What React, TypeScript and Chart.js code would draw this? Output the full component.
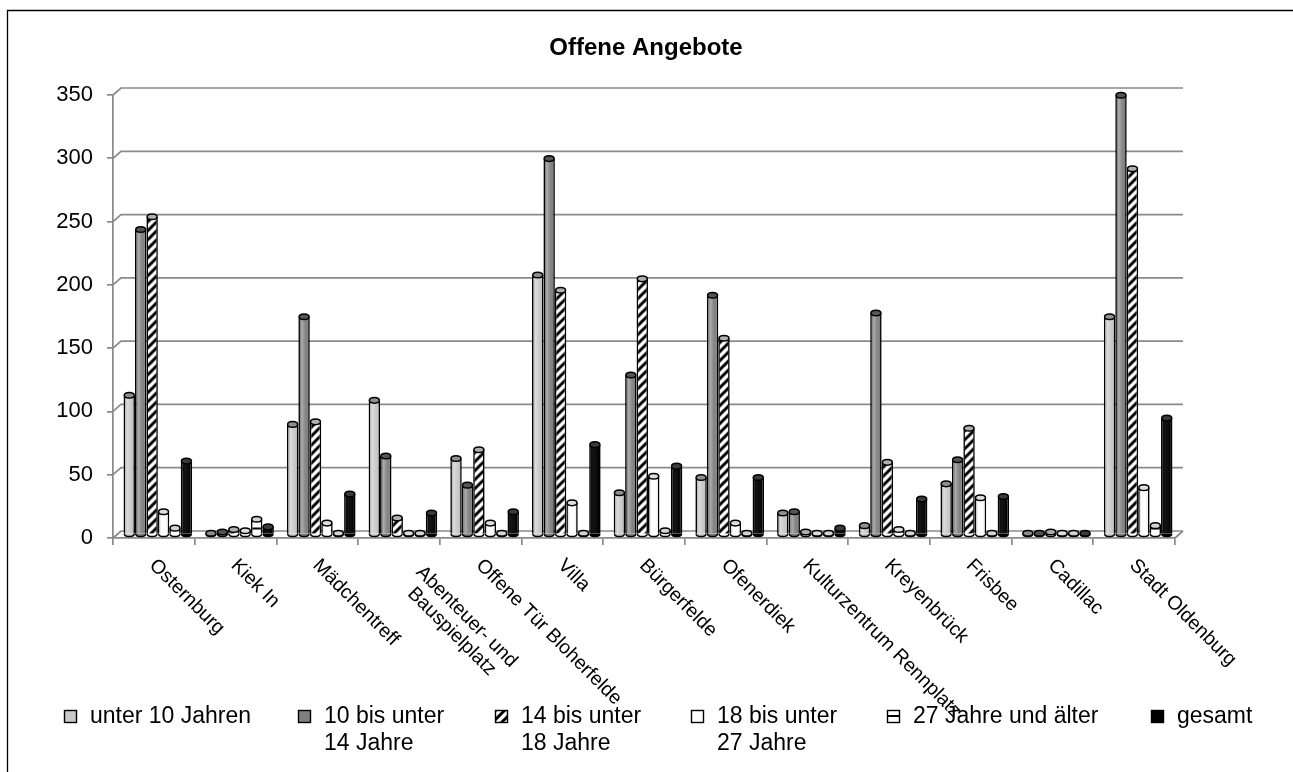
import { useEffect, useRef } from "react";
import { Chart, registerables } from "chart.js";

Chart.register(...registerables);

// ---------- data ----------
const chartTitle = "Offene Angebote";

const categories: string[][] = [
  ["Osternburg"],
  ["Kiek In"],
  ["Mädchentreff"],
  ["Abenteuer- und", "Bauspielplatz"],
  ["Offene Tür Bloherfelde"],
  ["Villa"],
  ["Bürgerfelde"],
  ["Ofenerdiek"],
  ["Kulturzentrum Rennplatz"],
  ["Kreyenbrück"],
  ["Frisbee"],
  ["Cadillac"],
  ["Stadt Oldenburg"],
];

const seriesNames: string[][] = [
  ["unter 10 Jahren"],
  ["10 bis unter", "14 Jahre"],
  ["14 bis unter", "18 Jahre"],
  ["18 bis unter", "27 Jahre"],
  ["27 Jahre und älter"],
  ["gesamt"],
];

const unter10 = [110, 1, 87, 106, 60, 205, 33, 45, 17, 7, 40, 1, 172];
const von10bis14 = [241, 2, 172, 62, 39, 297, 126, 189, 18, 175, 59, 1, 347];
const von14bis18 = [251, 4, 89, 13, 67, 193, 202, 155, 2, 57, 84, 2, 289];
const von18bis27 = [18, 3, 9, 1, 9, 25, 46, 9, 1, 4, 29, 1, 37];
const ab27 = [5, 12, 1, 1, 1, 1, 3, 1, 1, 1, 1, 1, 7];
const gesamt = [58, 6, 32, 17, 18, 71, 54, 45, 5, 28, 30, 1, 92];

const yMin = 0;
const yMax = 350;
const yStep = 50;

// ---------- styling ----------
const FONT = '"Liberation Sans", Arial, Helvetica, sans-serif';
const DX = 8;
const DY = -7;
const GRID = "#8a8a8a";

function makeHatch(ctx: CanvasRenderingContext2D): CanvasPattern | string {
  const c = document.createElement("canvas");
  c.width = 9;
  c.height = 9;
  const g = c.getContext("2d")!;
  g.fillStyle = "#fff";
  g.fillRect(0, 0, 9, 9);
  g.strokeStyle = "#000";
  g.lineWidth = 3;
  g.beginPath();
  g.moveTo(-3, 12);
  g.lineTo(12, -3);
  g.moveTo(-3, 3);
  g.lineTo(3, -3);
  g.moveTo(6, 12);
  g.lineTo(12, 6);
  g.stroke();
  return ctx.createPattern(c, "repeat") || "#fff";
}

function makeHStripe(ctx: CanvasRenderingContext2D): CanvasPattern | string {
  const c = document.createElement("canvas");
  c.width = 8;
  c.height = 8;
  const g = c.getContext("2d")!;
  g.fillStyle = "#fff";
  g.fillRect(0, 0, 8, 8);
  g.fillStyle = "#000";
  g.fillRect(0, 3, 8, 2);
  return ctx.createPattern(c, "repeat") || "#fff";
}

const capColors = ["#8f8f8f", "#555555", "#b0b0b0", "#dedede", "#d4d4d4", "#3a3a3a"];
const bottomColors = ["#c9c9c9", "#7f7f7f", "#ffffff", "#ffffff", "#ffffff", "#000000"];
const shaded = [true, true, false, true, false, true];

const threeD = {
  id: "threeD",
  beforeDatasetsDraw(chart: any) {
    const { ctx, chartArea: a, scales } = chart;
    const y = scales.y;
    ctx.save();
    ctx.strokeStyle = GRID;
    ctx.lineWidth = 1.7;
    y.ticks.forEach((t: any) => {
      const py = y.getPixelForValue(t.value);
      ctx.beginPath();
      ctx.moveTo(a.left, py);
      ctx.lineTo(a.left + DX, py + DY);
      ctx.lineTo(a.right + DX, py + DY);
      ctx.stroke();
    });
    ctx.beginPath();
    ctx.moveTo(a.right, a.bottom);
    ctx.lineTo(a.right + DX, a.bottom + DY);
    ctx.stroke();
    ctx.restore();
    ctx.save();
    ctx.translate(DX / 2, DY / 2);
  },
  afterDatasetsDraw(chart: any) {
    const ctx: CanvasRenderingContext2D = chart.ctx;
    chart.data.datasets.forEach((_ds: any, i: number) => {
      const meta = chart.getDatasetMeta(i);
      meta.data.forEach((bar: any) => {
        const { x, y, base, width } = bar.getProps(["x", "y", "base", "width"], true);
        const rx = width / 2;
        const ry = 2.8;
        if (shaded[i] && base - y > 2) {
          const gr = ctx.createLinearGradient(x - rx, 0, x + rx, 0);
          if (i === 5) {
            gr.addColorStop(0, "rgba(255,255,255,0)");
            gr.addColorStop(0.35, "rgba(255,255,255,0.08)");
            gr.addColorStop(1, "rgba(255,255,255,0)");
          } else {
            gr.addColorStop(0, "rgba(0,0,0,0.08)");
            gr.addColorStop(0.3, "rgba(255,255,255,0.35)");
            gr.addColorStop(0.6, "rgba(255,255,255,0.05)");
            gr.addColorStop(1, "rgba(0,0,0,0.12)");
          }
          ctx.fillStyle = gr;
          ctx.fillRect(x - rx + 1.6, y, width - 3.2, base - y);
        }
        ctx.strokeStyle = "#000";
        ctx.lineWidth = 1.5;
        ctx.beginPath();
        ctx.ellipse(x, base, rx - 0.75, ry, 0, 0, Math.PI);
        ctx.fillStyle = bottomColors[i];
        ctx.fill();
        ctx.stroke();
        ctx.beginPath();
        ctx.ellipse(x, y, rx - 0.75, ry, 0, 0, Math.PI * 2);
        ctx.fillStyle = capColors[i];
        ctx.fill();
        ctx.stroke();
      });
    });
    ctx.restore();
  },
};

const decorations = {
  id: "decorations",
  afterDraw(chart: any) {
    const { ctx, chartArea: a, scales } = chart;
    const x = scales.x;
    ctx.save();

    ctx.strokeStyle = "#000";
    ctx.lineWidth = 1.3;
    ctx.beginPath();
    ctx.moveTo(7.5, chart.height);
    ctx.lineTo(7.5, 10.5);
    ctx.lineTo(chart.width, 10.5);
    ctx.stroke();

    ctx.fillStyle = "#000";
    ctx.font = `bold 24px ${FONT}`;
    ctx.textAlign = "center";
    ctx.textBaseline = "middle";
    ctx.fillText(chartTitle, 646, 48);

    ctx.font = `19.5px ${FONT}`;
    ctx.textAlign = "left";
    ctx.textBaseline = "middle";
    categories.forEach((lines, i) => {
      const cx = x.getPixelForValue(i);
      const n = lines.length;
      const widths = lines.map((l) => ctx.measureText(l).width);
      const maxW = Math.max(...widths);
      ctx.save();
      ctx.translate(cx - 1.5, a.bottom + 24.5);
      ctx.rotate(Math.PI / 4);
      lines.forEach((l, j) => {
        ctx.fillText(l, 20 * (n - 1) + (maxW - widths[j]) / 2, -10.5 * (n - 1) + j * 21);
      });
      ctx.restore();
    });

    const legendX = [64, 298, 495, 691, 887, 1151];
    const box = 13;
    const ly = 716.5;
    ctx.font = `23px ${FONT}`;
    chart.data.datasets.forEach((ds: any, i: number) => {
      const bx = legendX[i];
      ctx.fillStyle = ds.backgroundColor;
      ctx.fillRect(bx, ly - box / 2, box, box);
      ctx.strokeStyle = "#000";
      ctx.lineWidth = 1.4;
      ctx.strokeRect(bx + 0.5, ly - box / 2 + 0.5, box - 1, box - 1);
      ctx.fillStyle = "#000";
      seriesNames[i].forEach((line, j) => {
        ctx.fillText(line, bx + 26, ly + j * 27.5);
      });
    });
    ctx.restore();
  },
};

export default function App() {
  const ref = useRef<HTMLCanvasElement | null>(null);

  useEffect(() => {
    const canvas = ref.current!;
    const ctx = canvas.getContext("2d")!;
    const fills: (string | CanvasPattern)[] = [
      "#c9c9c9",
      "#808080",
      makeHatch(ctx),
      "#ffffff",
      makeHStripe(ctx),
      "#000000",
    ];
    const series = [unter10, von10bis14, von14bis18, von18bis27, ab27, gesamt];

    const chart = new Chart(canvas, {
      type: "bar",
      data: {
        labels: categories.map((c) => c.join(" ")),
        datasets: series.map((s, i) => ({
          label: seriesNames[i].join(" "),
          data: s,
          backgroundColor: fills[i] as any,
          borderColor: "#000",
          borderWidth: 1.6,
          borderSkipped: "start",
          categoryPercentage: 0.84,
          barPercentage: 1.0,
          clip: false as any,
        })),
      },
      options: {
        responsive: false,
        maintainAspectRatio: false,
        animation: false,
        layout: { padding: { left: 0, top: 95, right: 118, bottom: 224 } },
        plugins: {
          legend: { display: false },
          title: { display: false },
          tooltip: { enabled: false },
        },
        scales: {
          x: {
            grid: {
              drawOnChartArea: false,
              drawTicks: true,
              tickLength: 7,
              color: GRID,
              lineWidth: 1.7,
            },
            border: { display: true, color: GRID, width: 1.7 },
            ticks: { display: false },
            afterFit: (s: any) => {
              s.height = 10;
            },
          },
          y: {
            min: yMin,
            max: yMax,
            ticks: {
              stepSize: yStep,
              color: "#000",
              padding: 14,
              font: { family: FONT, size: 22 },
            },
            grid: {
              drawOnChartArea: false,
              drawTicks: true,
              tickLength: 6,
              color: GRID,
              lineWidth: 1.7,
            },
            border: { display: true, color: GRID, width: 1.7 },
            afterFit: (s: any) => {
              s.width = 113;
            },
          },
        },
      },
      plugins: [threeD, decorations],
    });

    return () => chart.destroy();
  }, []);

  return (
    <div style={{ position: "absolute", left: 0, top: 0, width: 1293, height: 772, overflow: "hidden", background: "#fff" }}>
      <canvas ref={ref} width={1293} height={772} style={{ display: "block" }} />
    </div>
  );
}
